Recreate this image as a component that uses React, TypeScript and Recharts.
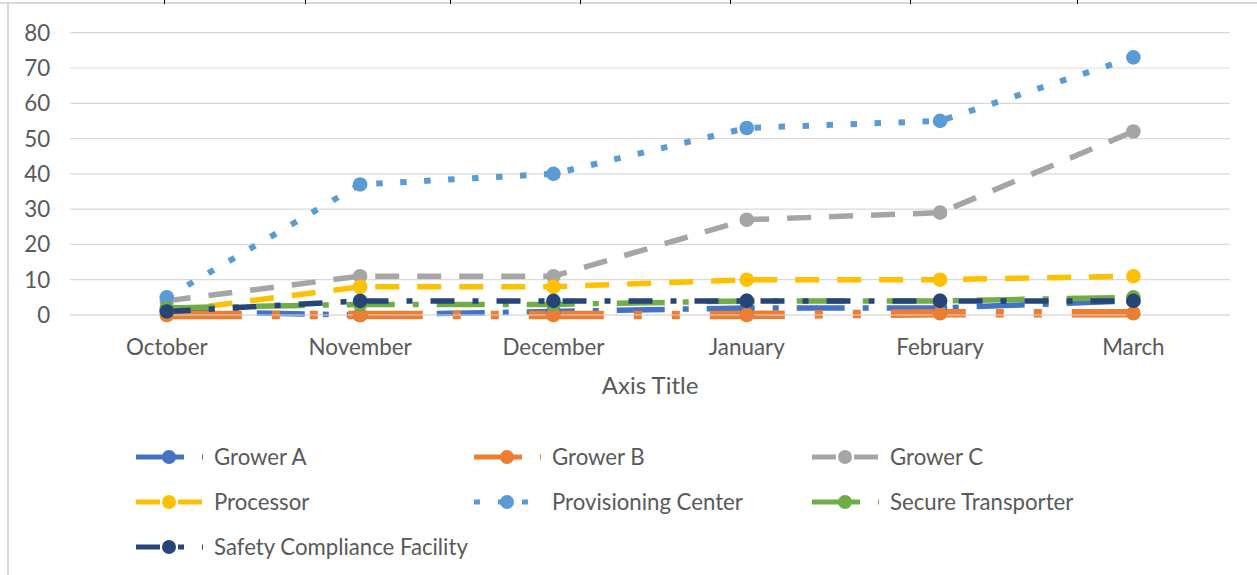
import React from 'react';
import { LineChart, Line, XAxis, YAxis, CartesianGrid, Legend } from 'recharts';

// ---- data ----
const months = ['October', 'November', 'December', 'January', 'February', 'March'];
const growerA = [1, 0, 1, 2, 2, 4];
const growerB = [0, 0, 0, 0, 0.5, 0.5];
const growerC = [4, 11, 11, 27, 29, 52];
const processor = [1, 8, 8, 10, 10, 11];
const provisioningCenter = [5, 37, 40, 53, 55, 73];
const secureTransporter = [2, 3, 3, 4, 4, 5];
const safetyCompliance = [1, 4, 4, 4, 4, 4];
const yTicks = [0, 10, 20, 30, 40, 50, 60, 70, 80];
const axisTitle = 'Axis Title';

type Series = {
  key: string;
  name: string;
  values: number[];
  color: string;
  dash: string;
  width: number;
  legendDash: string;
};

const series: Series[] = [
  { key: 'a', name: 'Grower A', values: growerA, color: '#4472C4', dash: '48 18 6 18', width: 5.5, legendDash: '48 18 6 18' },
  { key: 'b', name: 'Grower B', values: growerB, color: '#ED7D31', dash: '75 30 8 30 8 30', width: 8.5, legendDash: '48 18 6 18 6 18' },
  { key: 'c', name: 'Grower C', values: growerC, color: '#A5A5A5', dash: '24 18', width: 5.5, legendDash: '24 18' },
  { key: 'p', name: 'Processor', values: processor, color: '#FFC000', dash: '24 18', width: 5.5, legendDash: '24 18' },
  { key: 'pc', name: 'Provisioning Center', values: provisioningCenter, color: '#5B9BD5', dash: '6.5 17.5', width: 6, legendDash: '6 18' },
  { key: 'st', name: 'Secure Transporter', values: secureTransporter, color: '#70AD47', dash: '48 18 6 18', width: 5.5, legendDash: '48 18 6 18' },
  { key: 'sc', name: 'Safety Compliance Facility', values: safetyCompliance, color: '#264478', dash: '24 18 6 18', width: 5.5, legendDash: '24 18 6 18' },
];

const data = months.map((m, i) => {
  const row: Record<string, string | number> = { month: m };
  series.forEach((s) => {
    row[s.key] = s.values[i];
  });
  return row;
});

const FONT = 'Lato, "Liberation Sans", sans-serif';
const TEXT = '#595959';
const GRID = '#D9D9D9';

const LegendContent = () => (
  <div
    style={{
      width: 1257,
      height: 135,
      boxSizing: 'border-box',
      paddingLeft: 136,
      display: 'grid',
      gridTemplateColumns: '338px 338px 338px',
      gridAutoRows: '45px',
      fontFamily: FONT,
      fontSize: 22.2,
      color: TEXT,
    }}
  >
    {series.map((s) => (
      <div key={s.key} style={{ display: 'flex', alignItems: 'center', height: 45 }}>
        <svg width={78} height={20} style={{ flex: '0 0 78px' }}>
          <line x1={0} y1={10} x2={67} y2={10} stroke={s.color} strokeWidth={5} strokeDasharray={s.legendDash} />
          <circle cx={33} cy={10} r={7} fill={s.color} />
        </svg>
        <span style={{ whiteSpace: 'nowrap' }}>{s.name}</span>
      </div>
    ))}
  </div>
);

const tickMarks = [164, 305, 450, 580, 730, 910, 1077];

export default function App() {
  return (
    <div style={{ position: 'absolute', left: 0, top: 0, width: 1257, height: 575, background: '#fff', overflow: 'hidden' }}>
      <div style={{ position: 'absolute', left: 0, top: 2, width: 1257, height: 2, background: GRID }} />
      <div style={{ position: 'absolute', left: 7, top: 3, width: 2, height: 572, background: GRID }} />
      {tickMarks.map((x) => (
        <div key={x} style={{ position: 'absolute', left: x, top: 0, width: 1, height: 4, background: '#000' }} />
      ))}
      <div style={{ position: 'absolute', left: 0, top: 0 }}>
        <LineChart
          width={1257}
          height={575}
          data={data}
          margin={{ top: 32.7, right: 27, bottom: 6, left: 0 }}
        >
          <CartesianGrid horizontal vertical={false} stroke={GRID} strokeWidth={1.2} />
          <XAxis
            dataKey="month"
            height={119}
            padding={{ left: 96.6, right: 96.6 }}
            axisLine={{ stroke: GRID, strokeWidth: 1.2 }}
            tickLine={false}
            tickSize={0}
            tickMargin={24}
            tick={{ fill: TEXT, fontSize: 22.4, fontFamily: FONT }}
            interval={0}
            label={{ value: axisTitle, position: 'insideTop', offset: 62, fill: TEXT, fontSize: 24, fontFamily: FONT }}
          />
          <YAxis
            width={70.2}
            domain={[0, 80]}
            ticks={yTicks}
            axisLine={false}
            tickLine={false}
            tickSize={0}
            tickMargin={20}
            tick={{ fill: TEXT, fontSize: 22.4, fontFamily: FONT }}
            interval={0}
          />
          <Legend verticalAlign="bottom" content={LegendContent} wrapperStyle={{ left: 0, width: 1257, height: 135 }} />
          {series.map((s) => (
            <Line
              key={s.key}
              dataKey={s.key}
              name={s.name}
              stroke={s.color}
              strokeWidth={s.width}
              strokeDasharray={s.dash}
              strokeLinecap="butt"
              type="linear"
              isAnimationActive={false}
              activeDot={false}
              dot={(p: any) => <circle key={`${s.key}-${p.index}`} cx={p.cx} cy={p.cy} r={7.3} fill={s.color} stroke="none" />}
            />
          ))}
        </LineChart>
      </div>
    </div>
  );
}
